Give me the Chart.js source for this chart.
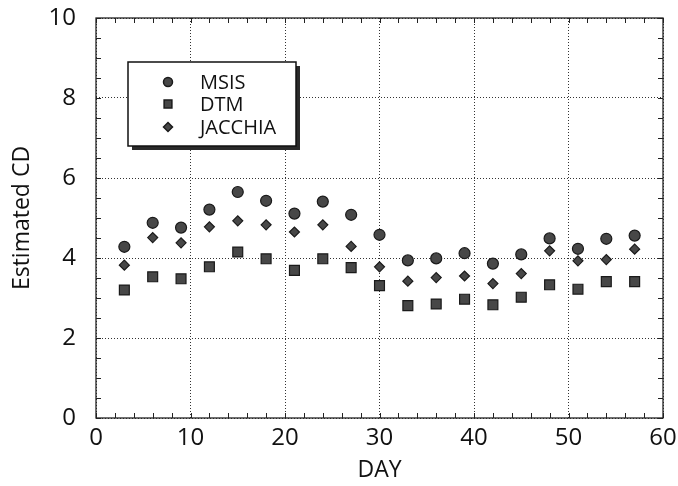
<!DOCTYPE html>
<html>
<head>
<meta charset="utf-8">
<script src="https://cdn.jsdelivr.net/npm/chart.js@4"></script>
<style>
  html, body { margin: 0; padding: 0; background: #fff; }
  #wrap { width: 678px; height: 486px; }
</style>
</head>
<body>
<div id="wrap"><canvas id="chart" width="678" height="486"></canvas></div>
<script>
// values
const days = [3, 6, 9, 12, 15, 18, 21, 24, 27, 30, 33, 36, 39, 42, 45, 48, 51, 54, 57];
const msis = [4.28, 4.88, 4.76, 5.21, 5.65, 5.43, 5.11, 5.41, 5.08, 4.58, 3.94, 3.99, 4.12, 3.86, 4.09, 4.49, 4.23, 4.48, 4.56];
const dtm = [3.20, 3.53, 3.48, 3.78, 4.15, 3.98, 3.69, 3.98, 3.76, 3.31, 2.81, 2.85, 2.97, 2.83, 3.02, 3.33, 3.22, 3.41, 3.41];
const jacchia = [3.82, 4.51, 4.38, 4.78, 4.93, 4.83, 4.65, 4.83, 4.29, 3.78, 3.42, 3.51, 3.55, 3.36, 3.61, 4.18, 3.93, 3.96, 4.22];
const seriesNames = ['MSIS', 'DTM', 'JACCHIA'];
const xTicks = [0, 10, 20, 30, 40, 50, 60];
const yTicks = [0, 2, 4, 6, 8, 10];

const FONT = "'Open Sans', 'Noto Sans', sans-serif";
const markFill = '#474747';
const markLine = '#1a1a1a';

const toPoints = (ys) => days.map((d, i) => ({ x: d, y: ys[i] }));

// frame on all four sides + small inward ticks
const framePlugin = {
  id: 'frame',
  beforeDatasetsDraw(chart) {
    const { ctx, chartArea: a, scales: { x, y } } = chart;
    ctx.save();
    ctx.strokeStyle = '#222';
    ctx.lineWidth = 1;
    ctx.beginPath();
    for (let v = 0; v <= 60; v += 2) {
      const px = Math.round(x.getPixelForValue(v)) + 0.5;
      ctx.moveTo(px, a.bottom); ctx.lineTo(px, a.bottom - 5);
      ctx.moveTo(px, a.top); ctx.lineTo(px, a.top + 5);
    }
    for (let v = 0; v <= 10; v += 0.5) {
      const py = Math.round(y.getPixelForValue(v)) + 0.5;
      ctx.moveTo(a.left, py); ctx.lineTo(a.left + 5, py);
      ctx.moveTo(a.right, py); ctx.lineTo(a.right - 5, py);
    }
    ctx.stroke();
    ctx.lineWidth = 1.3;
    ctx.strokeRect(a.left, a.top, a.right - a.left, a.bottom - a.top);
    ctx.restore();
  }
};

// boxed legend with drop shadow inside the plot
const legendBox = {
  id: 'legendBox',
  afterDraw(chart) {
    const ctx = chart.ctx;
    const bx = 128, by = 62, bw = 168, bh = 84;
    ctx.save();
    ctx.fillStyle = '#2a2a2a';
    ctx.fillRect(bx + 4, by + 4, bw, bh);
    ctx.fillStyle = '#fff';
    ctx.fillRect(bx, by, bw, bh);
    ctx.strokeStyle = '#111';
    ctx.lineWidth = 1.5;
    ctx.strokeRect(bx, by, bw, bh);
    const rows = [82, 104, 127];
    chart.data.datasets.forEach((ds, i) => {
      ctx.fillStyle = markFill;
      ctx.strokeStyle = markLine;
      Chart.helpers.drawPoint(ctx, {
        pointStyle: ds.pointStyle,
        radius: ds.pointStyle === 'rect' ? 5.5 : 4.5,
        borderWidth: 1,
        rotation: 0
      }, bx + 40, rows[i]);
      ctx.fillStyle = '#111';
      ctx.font = '20px ' + FONT;
      ctx.textAlign = 'left';
      ctx.textBaseline = 'middle';
      ctx.fillText(ds.label, bx + 72, rows[i] + 1);
    });
    ctx.restore();
  }
};

new Chart(document.getElementById('chart'), {
  type: 'scatter',
  data: {
    datasets: [
      { label: seriesNames[0], data: toPoints(msis), pointStyle: 'circle', pointRadius: 5.5 },
      { label: seriesNames[1], data: toPoints(dtm), pointStyle: 'rect', pointRadius: 7 },
      { label: seriesNames[2], data: toPoints(jacchia), pointStyle: 'rectRot', pointRadius: 5 }
    ].map(ds => Object.assign(ds, {
      backgroundColor: markFill,
      borderColor: markLine,
      borderWidth: 1.2,
      pointHoverRadius: ds.pointRadius
    }))
  },
  options: {
    responsive: false,
    animation: false,
    layout: { padding: { top: 18, right: 15, left: 0, bottom: 0 } },
    plugins: {
      legend: { display: false },
      tooltip: { enabled: false }
    },
    scales: {
      x: {
        type: 'linear',
        min: 0,
        max: 60,
        afterBuildTicks: (s) => { s.ticks = xTicks.map(v => ({ value: v })); },
        afterFit: (s) => { s.height = 68; s.paddingLeft = 0; s.paddingRight = 0; },
        grid: { color: '#333', lineWidth: 1, drawTicks: false },
        border: { display: false, dash: [1, 2] },
        ticks: { padding: 6, color: '#111', font: { family: FONT, size: 24 } },
        title: { display: true, text: 'DAY', color: '#111', font: { family: FONT, size: 23 }, padding: { top: 2, bottom: 2 } }
      },
      y: {
        type: 'linear',
        min: 0,
        max: 10,
        afterBuildTicks: (s) => { s.ticks = yTicks.map(v => ({ value: v })); },
        afterFit: (s) => { s.width = 96; s.paddingTop = 0; s.paddingBottom = 0; },
        grid: { color: '#333', lineWidth: 1, drawTicks: false },
        border: { display: false, dash: [1, 2] },
        ticks: { padding: 20, color: '#111', font: { family: FONT, size: 24 } },
        title: { display: true, text: 'Estimated CD', color: '#111', font: { family: FONT, size: 23 }, padding: { top: 9, bottom: 0 } }
      }
    }
  },
  plugins: [framePlugin, legendBox]
});
</script>
</body>
</html>
